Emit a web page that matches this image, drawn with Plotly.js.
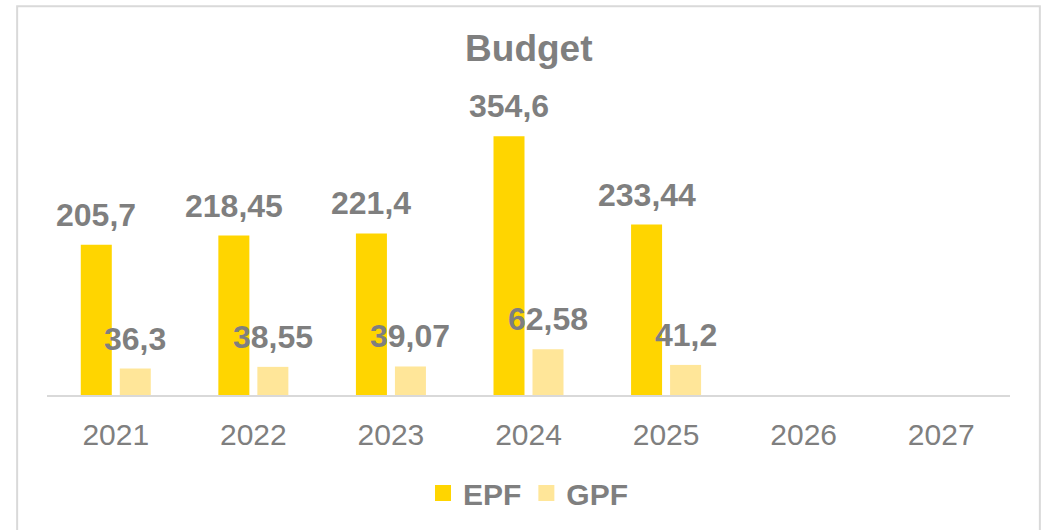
<!DOCTYPE html>
<html>
<head>
<meta charset="utf-8">
<script src="https://cdn.plot.ly/plotly-3.0.1.min.js"></script>
<style>
html,body{margin:0;padding:0;background:#fff;}
#chart{width:1043px;height:530px;}
</style>
</head>
<body>
<div id="chart"></div>
<script>
const categories = ['2021','2022','2023','2024','2025','2026','2027'];
const epfValues = [205.7, 218.45, 221.4, 354.6, 233.44, null, null];
const gpfValues = [36.3, 38.55, 39.07, 62.58, 41.2, null, null];
const seriesNames = ['EPF','GPF'];
const seriesColors = ['#FFD500','#FFE699'];

const grey = '#7F7F7F';
const fontFam = 'Liberation Sans, Arial, sans-serif';

const traces = [epfValues, gpfValues].map((vals, i) => ({
  type: 'bar',
  name: seriesNames[i],
  x: categories,
  y: vals,
  marker: {color: seriesColors[i]},
  showlegend: false,
  hoverinfo: 'skip'
}));

// legend-only entries with larger square swatches
seriesNames.forEach((name, i) => {
  traces.push({
    type: 'scatter', mode: 'markers', name: name,
    x: [categories[0]], y: [null],
    marker: {symbol: 'square', size: 17, color: seriesColors[i]},
    hoverinfo: 'skip', showlegend: true
  });
});

function fmt(v){ return String(v).replace('.', ','); }

const annotations = [];
[epfValues, gpfValues].forEach((vals, i) => {
  vals.forEach((v, j) => {
    if (v === null) return;
    annotations.push({
      x: j, y: v, xref: 'x', yref: 'y',
      text: fmt(v), showarrow: false,
      xshift: i === 0 ? -19.5 : 19.5,
      yshift: 30, yanchor: 'middle',
      font: {family: fontFam, size: 32, color: grey, weight: 'bold'}
    });
  });
});

const layout = {
  width: 1043, height: 530,
  margin: {l: 47, r: 33, t: 103, b: 134},
  paper_bgcolor: '#fff', plot_bgcolor: '#fff',
  title: {text: 'Budget', x: 0.507, xanchor: 'center', y: 0.909, yanchor: 'middle',
          font: {family: fontFam, size: 37, color: grey, weight: 'bold'}},
  barmode: 'group', bargap: 0.433, bargroupgap: 0.205,
  xaxis: {type: 'category', range: [-0.5, categories.length - 0.5], autorange: false,
          showline: true, linecolor: '#D9D9D9', linewidth: 2,
          showgrid: false, zeroline: false, ticks: '', ticklabelstandoff: 12,
          tickfont: {family: fontFam, size: 30, color: grey}, fixedrange: true},
  yaxis: {range: [0, 400], autorange: false, visible: false, showgrid: false, zeroline: false, fixedrange: true},
  showlegend: true,
  legend: {orientation: 'h', x: 0.5, xanchor: 'center', y: -0.331, yanchor: 'middle',
           font: {family: fontFam, size: 30, color: grey, weight: 'bold'}, itemclick: false},
  annotations: annotations,
  shapes: [{type: 'rect', xref: 'paper', yref: 'paper',
            x0: -0.031, x1: 1.031, y0: -0.5, y1: 1.331,
            line: {color: '#D9D9D9', width: 2}, fillcolor: 'rgba(0,0,0,0)', layer: 'below'}]
};

Plotly.newPlot('chart', traces, layout, {displayModeBar: false, staticPlot: true});
</script>
</body>
</html>
